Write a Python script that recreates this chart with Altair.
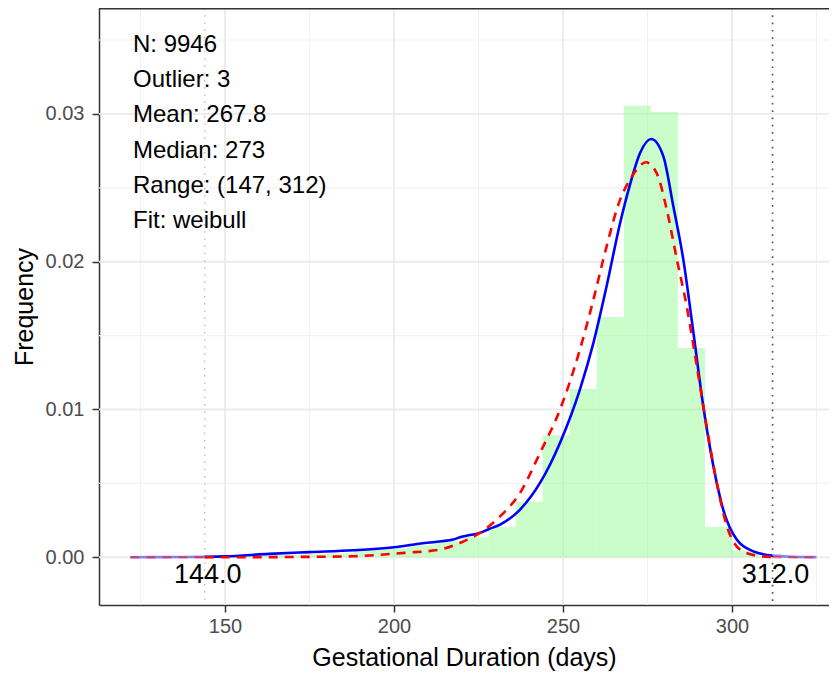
import altair as alt
import pandas as pd

# ---------------- data ----------------
BIN_WIDTH = 8
hist_start = [140, 148, 156, 164, 172, 180, 188, 196, 204, 212, 220, 228, 236,
              244, 252, 260, 268, 276, 284, 292, 300, 308]
hist_density = [0.00003, 0.00005, 0.0001, 0.00015, 0.0002, 0.00025, 0.0005, 0.0006,
                0.0008, 0.0011, 0.00138, 0.00206, 0.00375, 0.00825, 0.01139, 0.01626,
                0.03056, 0.03013, 0.01417, 0.00206, 0.00045, 0.00005]

kde_days = [122, 130, 138, 144, 150, 163, 175, 188, 200, 208, 214, 217.5, 219.5,
            222.5, 225.4, 228, 231.4, 237.3, 243.2, 249.1, 255.0, 259.0, 262.9, 266.9,
            269.8, 272.8, 276.1, 279.7, 282.6, 285.6, 288.6, 291.5, 294.5, 297.4,
            301.4, 306.3, 312, 318, 325]
kde_density = [0.0, 0.00001, 0.00002, 0.00003, 0.00006, 0.00023, 0.00035, 0.00047,
               0.00068, 0.00093, 0.00108, 0.0012, 0.00135, 0.0015, 0.00165, 0.0019,
               0.00221, 0.00323, 0.00503, 0.00774, 0.01135, 0.01451, 0.01834, 0.02262,
               0.0252, 0.02736, 0.02831, 0.02713, 0.0238, 0.02014, 0.01518, 0.01022,
               0.00616, 0.00323, 0.0012, 0.0004, 0.00011, 0.00004, 0.00001]

wb_days = [122, 134, 144, 163, 175, 188, 203, 213.6, 219.5, 225.4, 231.4, 237.3,
           243.2, 249.1, 255.0, 259.0, 262.9, 266.9, 269.8, 271.8, 274.5, 277.7,
           280.7, 283.7, 286.6, 289.6, 292.5, 295.5, 298.5, 302.4, 307.3, 312, 318, 325]
wb_density = [0.0, 0.0, 0.0, 0.00001, 0.00003, 0.00007, 0.0003, 0.00052, 0.00097,
              0.00165, 0.00277, 0.00436, 0.00706, 0.00999, 0.01405, 0.01744, 0.02104,
              0.0242, 0.02555, 0.02623, 0.02673, 0.026, 0.02352, 0.02014, 0.01698,
              0.01292, 0.00886, 0.00503, 0.0021, 0.00052, 0.00011, 0.00002, 0.0, 0.0]

lower_cut = 144.0
upper_cut = 312.0
stats_lines = ["N: 9946", "Outlier: 3", "Mean: 267.8", "Median: 273",
               "Range: (147, 312)", "Fit: weibull"]

x_major = [150, 200, 250, 300]
x_minor = [125, 175, 225, 275, 325]
y_major = [0.0, 0.01, 0.02, 0.03]
y_minor = [0.005, 0.015, 0.025, 0.035]

# ---------------- tables ----------------
hist_df = pd.DataFrame({"start": hist_start, "density": hist_density})
hist_df["end"] = hist_df["start"] + BIN_WIDTH


def split_curve(days, dens):
    rows = []
    for d, v in zip(days, dens):
        if d <= lower_cut:
            rows.append({"day": d, "dens": v, "part": "left", "seg": "tail"})
        if lower_cut <= d <= upper_cut:
            rows.append({"day": d, "dens": v, "part": "mid", "seg": "main"})
        if d >= upper_cut:
            rows.append({"day": d, "dens": v, "part": "right", "seg": "tail"})
    return pd.DataFrame(rows)


kde_df = split_curve(kde_days, kde_density)
wb_df = split_curve(wb_days, wb_density)

W, H = 730, 597
FONT = "Liberation Sans"
xs = alt.Scale(domain=[112.72, 328.7], nice=False, zero=False)
ys = alt.Scale(domain=[-0.00323, 0.03717], nice=False, zero=False)
xa = alt.Axis(values=x_major, format="d", title="Gestational Duration (days)",
              grid=False, labelFontSize=20, labelColor="#4D4D4D",
              tickColor="#333333", tickSize=7, tickWidth=1.5,
              domainColor="#333333", domainWidth=1.5, labelPadding=4,
              titleFontSize=25, titleColor="black", titleFontWeight="normal",
              titlePadding=9, labelFont=FONT, titleFont=FONT)
ya = alt.Axis(values=y_major, format=".2f", title="Frequency", grid=False,
              labelFontSize=20, labelColor="#4D4D4D", tickColor="#333333",
              tickSize=7, tickWidth=1.5, domainColor="#333333",
              domainWidth=1.5, labelPadding=8, titleFontSize=25,
              titleColor="black", titleFontWeight="normal", titlePadding=8,
              labelFont=FONT, titleFont=FONT)
op_scale = alt.Scale(domain=["tail", "main"], range=[0.45, 1.0])


def X(field):
    return alt.X(field, scale=xs, axis=xa)


def Y(field):
    return alt.Y(field, scale=ys, axis=ya)


grid_vmaj = alt.Chart(pd.DataFrame({"x": x_major})).mark_rule(
    color="#EBEBEB", strokeWidth=1.8).encode(x=X("x:Q"))
grid_vmin = alt.Chart(pd.DataFrame({"x": x_minor})).mark_rule(
    color="#F2F2F2", strokeWidth=1.1).encode(x=X("x:Q"))
grid_hmaj = alt.Chart(pd.DataFrame({"y": y_major})).mark_rule(
    color="#EBEBEB", strokeWidth=1.8).encode(y=Y("y:Q"))
grid_hmin = alt.Chart(pd.DataFrame({"y": y_minor})).mark_rule(
    color="#F2F2F2", strokeWidth=1.1).encode(y=Y("y:Q"))

bars = alt.Chart(hist_df).mark_rect(color="#98FB98", opacity=0.5).encode(
    x=X("start:Q"), x2="end:Q", y=Y("density:Q"), y2=alt.datum(0),
)

low_line = alt.Chart(pd.DataFrame({"x": [lower_cut]})).mark_rule(
    color="#B8B8B8", strokeWidth=1.4, strokeDash=[1.4, 5.8]).encode(x=X("x:Q"))
up_line = alt.Chart(pd.DataFrame({"x": [upper_cut]})).mark_rule(
    color="#555555", strokeWidth=1.7, strokeDash=[1.7, 5.6]).encode(x=X("x:Q"))

kde_line = alt.Chart(kde_df).mark_line(color="#0000FF", strokeWidth=2.6,
                                       interpolate="monotone").encode(
    x=X("day:Q"), y=Y("dens:Q"), detail="part:N",
    opacity=alt.Opacity("seg:N", scale=op_scale, legend=None),
)
wb_line = alt.Chart(wb_df).mark_line(color="#FF0000", strokeWidth=2.6,
                                     strokeDash=[9, 7], interpolate="monotone").encode(
    x=X("day:Q"), y=Y("dens:Q"), detail="part:N",
    opacity=alt.Opacity("seg:N", scale=op_scale, legend=None),
)

cut_df = pd.DataFrame({"x": [lower_cut, upper_cut],
                       "label": [f"{lower_cut:.1f}", f"{upper_cut:.1f}"],
                       "y": [0.0, 0.0]})
cut_text = alt.Chart(cut_df).mark_text(fontSize=27, font=FONT, color="black",
                                       align="center", baseline="alphabetic",
                                       dx=3, dy=26).encode(
    x=X("x:Q"), y=Y("y:Q"), text="label:N",
)

stats_text = alt.Chart(pd.DataFrame({"a": [0]})).mark_text(
    fontSize=24, font=FONT, color="black", align="left", baseline="alphabetic",
    lineHeight=35.2).encode(
    x=alt.value(34), y=alt.value(44), text=alt.value(stats_lines))

top_border = alt.Chart(pd.DataFrame({"a": [0]})).mark_rule(
    color="#333333", strokeWidth=1.5).encode(
    x=alt.value(0), x2=alt.value(W), y=alt.value(0.75))

chart = alt.layer(
    grid_vmin, grid_hmin, grid_vmaj, grid_hmaj, bars, low_line, up_line,
    kde_line, wb_line, cut_text, stats_text, top_border
).properties(
    width=W, height=H,
    padding={"left": 91, "top": 0, "right": 0, "bottom": 68},
    autosize=alt.AutoSizeParams(type="none"),
).configure_view(stroke=None).configure(background="white", font=FONT)

chart.save("out.html", embed_options={"renderer": "svg", "actions": False})
